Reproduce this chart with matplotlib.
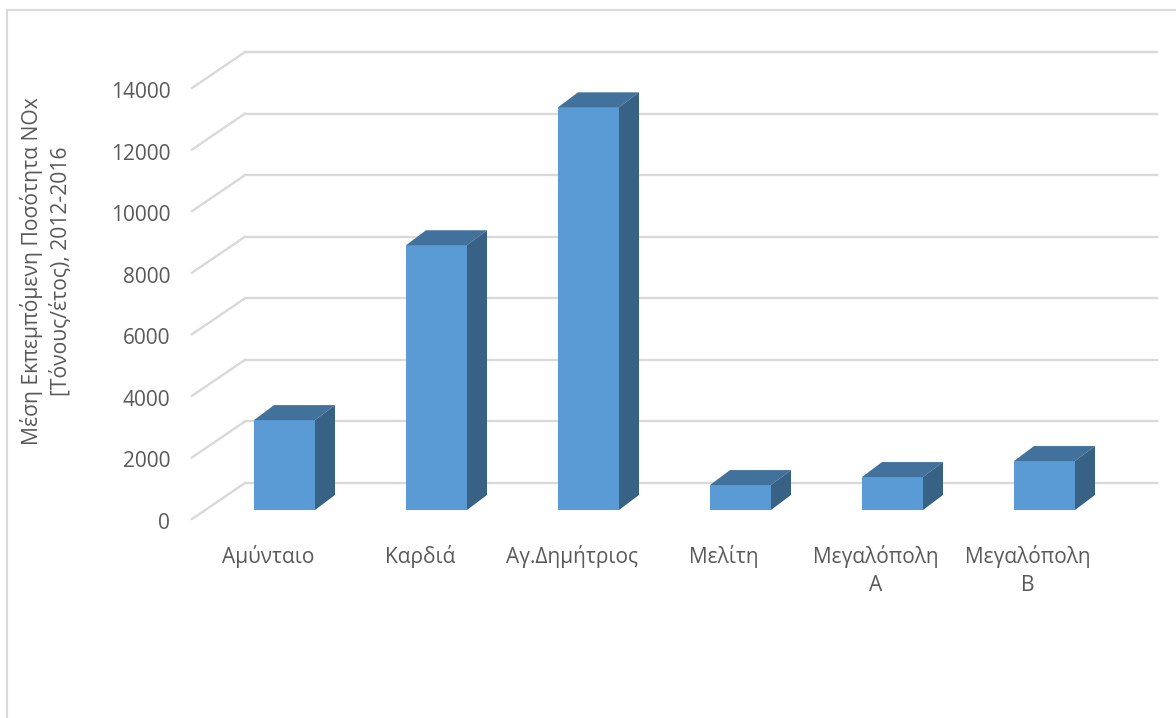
import matplotlib
matplotlib.use('Agg')
import matplotlib.pyplot as plt
from matplotlib.patches import Polygon, Rectangle
from matplotlib.transforms import Affine2D

plt.rcParams['font.family'] = ['Open Sans', 'DejaVu Sans']

categories = ['Αμύνταιο', 'Καρδιά', 'Αγ.Δημήτριος', 'Μελίτη', 'Μεγαλόπολη\nΑ', 'Μεγαλόπολη\nΒ']
nox_values = [2920, 8600, 13080, 810, 1070, 1590]
y_ticks = [0, 2000, 4000, 6000, 8000, 10000, 12000, 14000]
y_title = 'Μέση Εκπεμπόμενη Ποσότητα NOx\n[Τόνους/έτος), 2012-2016'

W, H = 1176, 718
fig = plt.figure(figsize=(W / 100, H / 100), dpi=100)
ax = fig.add_axes([192 / W, (H - 519) / H, 912 / W, 431 / H])
ax.set_xlim(-0.5, 5.5)
ax.set_ylim(0, 14000)
ax.patch.set_visible(False)
for s in ax.spines.values():
    s.set_visible(False)

GRID = '#d9d9d9'
TEXT = '#595959'


def shifted(dx, dy):
    # data coords moved right and up by some pixels, for the fake 3d depth
    return ax.transData + Affine2D().translate(dx, dy)


# outer frame of the chart
fig.add_artist(Rectangle((7 / W, -0.01), 1.1, (H - 10) / H + 0.01, transform=fig.transFigure,
                         fill=False, ec=GRID, lw=1.5))

# back wall lines and the floor diagonals on the left
for v in y_ticks:
    ax.plot([-0.5, 5.5], [v, v], color=GRID, lw=1.7, clip_on=False, transform=shifted(53, 36), zorder=1)
    x0, y0 = ax.transData.transform((-0.5, v))
    ax.plot([x0, x0 + 53], [y0, y0 + 36], color=GRID, lw=1.7, transform=None, clip_on=False, zorder=1)

# bars: front, top, side
bar_w = 61 / 152
for i, v in enumerate(nox_values):
    tr = shifted(16.5, 9)
    l, r = i - bar_w / 2, i + bar_w / 2
    ax.add_patch(Polygon([(l, 0), (r, 0), (r, v), (l, v)], fc='#5b9bd5', ec='none', transform=tr, clip_on=False, zorder=3))
    (xl, yb), (xr, yt) = tr.transform((l, 0)), tr.transform((r, v))
    ax.add_patch(Polygon([(xl, yt), (xr, yt), (xr + 20, yt + 15), (xl + 20, yt + 15)], fc='#42719c', ec='none',
                         transform=None, clip_on=False, zorder=3))
    ax.add_patch(Polygon([(xr, yb), (xr + 20, yb + 15), (xr + 20, yt + 15), (xr, yt)], fc='#376286', ec='none',
                         transform=None, clip_on=False, zorder=3))

ax.set_xticks(range(len(categories)))
ax.set_xticklabels(categories, fontsize=15, color=TEXT, linespacing=1.46)
ax.set_yticks(y_ticks)
ax.tick_params(axis='x', length=0, pad=18.7)
ax.tick_params(axis='y', length=0, pad=15.7, labelsize=15, labelcolor=TEXT)
# tick labels sit a bit lower than the tick position in the original
for lab in ax.get_yticklabels():
    lab.set_transform(lab.get_transform() + Affine2D().translate(0, -2))
fig.text(46 / W, 1 - 271 / H, y_title, rotation=90, ha='center', va='center', fontsize=15.2, color=TEXT,
         linespacing=1.47)

fig.savefig('out.png', dpi=100)
